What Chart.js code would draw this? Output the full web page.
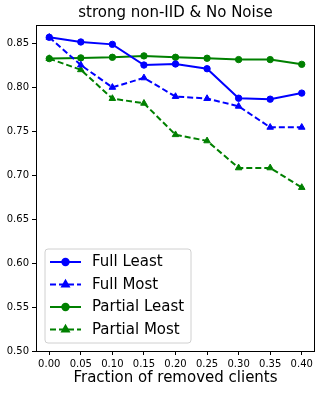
<!doctype html>
<html>
<head>
<meta charset="utf-8">
<script src="https://cdn.jsdelivr.net/npm/chart.js"></script>
<style>
html, body { margin: 0; padding: 0; background: #fff; }
#wrap { width: 322px; height: 394px; position: relative; }
</style>
</head>
<body>
<div id="wrap"><canvas id="myChart"></canvas></div>
<script>
// values
var fractions = [0.00, 0.05, 0.10, 0.15, 0.20, 0.25, 0.30, 0.35, 0.40];
var fullLeast = [0.8565, 0.8512, 0.8485, 0.8250, 0.8262, 0.8208, 0.7873, 0.7862, 0.7931];
var fullMost = [0.8565, 0.8250, 0.7996, 0.8104, 0.7892, 0.7869, 0.7781, 0.7542, 0.7542];
var partialLeast = [0.8323, 0.8331, 0.8338, 0.8354, 0.8338, 0.8327, 0.8312, 0.8312, 0.8258];
var partialMost = [0.8323, 0.8196, 0.7869, 0.7815, 0.7458, 0.7388, 0.7081, 0.7081, 0.6858];
var xTicks = [0.00, 0.05, 0.10, 0.15, 0.20, 0.25, 0.30, 0.35, 0.40];
var yTicks = [0.50, 0.55, 0.60, 0.65, 0.70, 0.75, 0.80, 0.85];

var font = "'DejaVu Sans', sans-serif";

function pts(ys) {
	return fractions.map(function (x, i) { return { x: x, y: ys[i] }; });
}

function series(label, ys, color, dashed) {
	return {
		label: label,
		data: pts(ys),
		borderColor: color,
		backgroundColor: color,
		borderWidth: 2,
		borderDash: dashed ? [6, 3] : [],
		pointStyle: dashed ? 'triangle' : 'circle',
		pointRadius: dashed ? 3.8 : 3.2,
		pointBorderWidth: 1,
		tension: 0
	};
}

// title, frame and legend drawn like matplotlib
var mplLook = {
	id: 'mplLook',
	afterDraw: function (chart) {
		var c = chart.ctx, a = chart.chartArea;
		c.save();
		c.fillStyle = '#000';
		c.font = '15px ' + font;
		c.textAlign = 'center';
		c.textBaseline = 'middle';
		c.fillText('strong non-IID & No Noise', (a.left + a.right) / 2, 13);

		c.strokeStyle = '#000';
		c.lineWidth = 1;
		c.setLineDash([]);
		c.strokeRect(Math.round(a.left) + 0.5, Math.round(a.top) + 0.5, Math.round(a.right - a.left) - 1, Math.round(a.bottom - a.top));

		// legend box
		var bx = 45, by = 249, bw = 146, bh = 94, r = 3;
		c.beginPath();
		c.moveTo(bx + r, by);
		c.arcTo(bx + bw, by, bx + bw, by + bh, r);
		c.arcTo(bx + bw, by + bh, bx, by + bh, r);
		c.arcTo(bx, by + bh, bx, by, r);
		c.arcTo(bx, by, bx + bw, by, r);
		c.closePath();
		c.fillStyle = 'rgba(255,255,255,0.85)';
		c.fill();
		c.strokeStyle = '#d0d0d0';
		c.stroke();

		chart.data.datasets.forEach(function (ds, i) {
			var y = 262 + i * 22.5;
			c.strokeStyle = ds.borderColor;
			c.lineWidth = 2;
			c.setLineDash(ds.borderDash);
			c.beginPath();
			c.moveTo(50, y);
			c.lineTo(81, y);
			c.stroke();
			c.setLineDash([]);
			Chart.helpers.drawPoint(c, {
				pointStyle: ds.pointStyle, radius: ds.pointRadius, rotation: 0, borderWidth: 1
			}, 65.5, y);
			c.fillStyle = ds.borderColor;
			c.fill();
			c.fillStyle = '#000';
			c.font = '15px ' + font;
			c.textAlign = 'left';
			c.fillText(ds.label, 92, y + 0.5);
		});
		c.restore();
	}
};

new Chart(document.getElementById('myChart'), {
	type: 'line',
	data: {
		datasets: [
			series('Full Least', fullLeast, '#0000ff', false),
			series('Full Most', fullMost, '#0000ff', true),
			series('Partial Least', partialLeast, '#008000', false),
			series('Partial Most', partialMost, '#008000', true)
		]
	},
	options: {
		responsive: true,
		maintainAspectRatio: false,
		animation: false,
		layout: { padding: { top: 25, right: 7, left: 0, bottom: 0 } },
		plugins: {
			legend: { display: false },
			tooltip: { enabled: false }
		},
		scales: {
			x: {
				type: 'linear',
				min: -0.021,
				max: 0.421,
				afterBuildTicks: function (s) { s.ticks = xTicks.map(function (v) { return { value: v }; }); },
				afterFit: function (s) { s.height = 43; },
				grid: { display: true, drawOnChartArea: false, tickLength: 4, color: '#000' },
				border: { display: false },
				ticks: {
					color: '#000', font: { family: font, size: 10 }, padding: 3, maxRotation: 0,
					callback: function (v) { return v.toFixed(2); }
				},
				title: {
					display: true, text: 'Fraction of removed clients', color: '#000',
					font: { family: font, size: 15 }, padding: { top: 0, bottom: 7 }
				}
			},
			y: {
				min: 0.5,
				max: 0.8705,
				afterBuildTicks: function (s) { s.ticks = yTicks.map(function (v) { return { value: v }; }); },
				afterFit: function (s) { s.width = 36; },
				grid: { display: true, drawOnChartArea: false, tickLength: 4, color: '#000' },
				border: { display: false },
				ticks: {
					color: '#000', font: { family: font, size: 10 }, padding: 3,
					callback: function (v) { return v.toFixed(2); }
				}
			}
		}
	},
	plugins: [mplLook]
});
</script>
</body>
</html>
